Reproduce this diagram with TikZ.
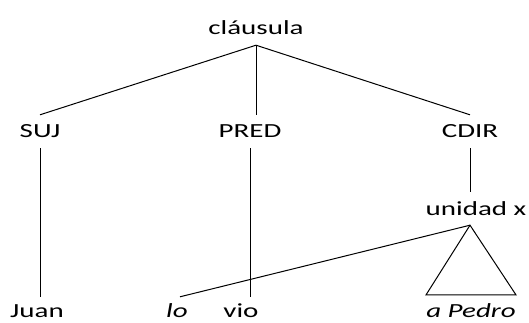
\documentclass[tikz,border=0pt]{standalone}
\usepackage{fontspec}
\setmainfont{Carlito}
\usepackage{graphicx}
\newcommand{\ancho}[1]{\scalebox{1.45}[1]{#1}}
\tikzset{
  etiqueta/.style={anchor=base, font=\fontsize{20}{24}\selectfont, text height=13pt, text depth=0pt, inner xsep=0pt, inner ysep=10pt},
  hoja/.style={etiqueta, inner ysep=1pt},
  rama/.style={line width=1pt, black}
}
\begin{document}
\begin{tikzpicture}[x=1pt, y=-1pt]
    \useasboundingbox (0,0) rectangle (529,323);

    % 1. 根节点与三个成分
    \node[etiqueta] (clausula) at (256,35) {\ancho{cláusula}};
    \node[etiqueta] (suj) at (40,138) {\ancho{SUJ}};
    \node[etiqueta] (pred) at (250,138) {\ancho{PRED}};
    \node[etiqueta] (cdir) at (470,138) {\ancho{CDIR}};
    \node[etiqueta] (unidad) at (476,215) {\ancho{unidad x}};

    % 2. 底部的词
    \node[hoja] (juan) at (37,317) {\ancho{Juan}};
    \node[hoja] (lo) at (177,317) {\ancho{\itshape lo}};
    \node[hoja] (vio) at (241,317) {\ancho{vio}};
    \node[hoja] (apedro) at (471,317) {\ancho{\itshape a Pedro}};

    % 3. 连线
    \draw[rama] (suj.north) -- (clausula.south) -- (cdir.north);
    \draw[rama] (clausula.south) -- (pred.north -| clausula.south);
    \draw[rama, shorten >=6pt] (suj.south) -- (suj.south |- juan.north);
    \draw[rama, shorten >=6pt] (pred.south) -- (pred.south |- vio.north);
    \draw[rama] (cdir.south) -- (cdir.south |- unidad.north);

    % 三角形与 lo 的连线
    \coordinate (cima) at (cdir.south |- unidad.south);
    \draw[rama] ([xshift=3pt, yshift=6pt]lo.north) -- (cima);
    \draw[rama] (cima) -- ([yshift=8pt]apedro.north west) -- ([yshift=8pt]apedro.north east) -- cycle;
\end{tikzpicture}
\end{document}
